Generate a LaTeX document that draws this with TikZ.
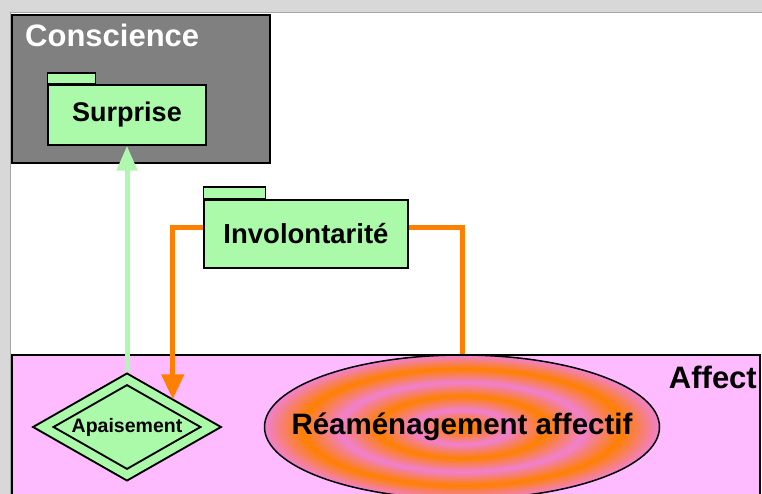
\documentclass[tikz,border=0pt]{standalone}
\usepackage{fontspec}
\setmainfont{Liberation Sans}
\usetikzlibrary{arrows.meta,shapes.geometric}
\definecolor{pkggreen}{HTML}{AAFAAA}
\definecolor{linkgreen}{HTML}{B0F8B0}
\definecolor{linkorange}{HTML}{FF8000}
\definecolor{affectpink}{HTML}{FFBBFF}
\definecolor{ringpink}{HTML}{F080D0}
\definecolor{framegray}{HTML}{D8D8D8}
\pgfdeclareradialshading{rings}{\pgfpoint{0bp}{0bp}}{color(0bp)=(linkorange); color(1.5bp)=(linkorange); color(6bp)=(ringpink); color(10.75bp)=(linkorange); color(15.5bp)=(ringpink); color(20.25bp)=(linkorange); color(25bp)=(ringpink); color(50bp)=(ringpink)}
\tikzset{
	pkg/.style={draw, line width=1.5pt, fill=pkggreen, inner sep=0pt, font=\bfseries\fontsize{27}{30}\selectfont},
	pkgtab/.style={draw, line width=1.5pt, fill=pkggreen},
	greenlink/.style={draw=linkgreen, line width=5pt, -{Triangle[width=20pt,length=25pt]}},
	orangelink/.style={draw=linkorange, line width=5pt}
}

\begin{document}
\begin{tikzpicture}[x=1pt,y=-1pt]
		%%%%% START %%%%%
		\clip (0,0) rectangle (762,494);
		\fill[framegray] (0,0) rectangle (762,494);
		\fill[white] (10,12) rectangle (762,494);
		\draw[gray!70] (10,494) -- (10,12) -- (762,12);
		
		% Conscience
		\draw[line width=2pt, fill=gray] (12,15) rectangle (270,163);
		\node[anchor=base west, text=white, inner sep=0pt, font=\bfseries\fontsize{31}{33}\selectfont] (consc) at (25,47) {Conscience};
		\node[pkg, minimum width=158pt, minimum height=60pt] (surp) at (127,115) {Surprise};
		\draw[pkgtab] (surp.north west) rectangle ++(48,-11);
		
		% Involontarite
		\node[pkg, minimum width=204pt, minimum height=68pt, font=\bfseries\fontsize{27.5}{30}\selectfont] (inv) at (306,234) {Involontarité};
		\draw[pkgtab] (inv.north west) rectangle ++(62,-12);
		
		% Affect
		\draw[line width=2pt, fill=affectpink] (12,355) rectangle (760,520);
		\node[anchor=base east, inner sep=0pt, font=\bfseries\fontsize{31}{33}\selectfont] (affect) at (757,388) {Affect};
		\node[ellipse, draw, line width=1.5pt, shade, shading=rings, minimum width=395pt, minimum height=144pt, inner xsep=-40pt, inner ysep=0pt, font=\bfseries\fontsize{29.5}{31}\selectfont] (reamen) at (462,427) {Réaménagement affectif};
		\node[diamond, draw, line width=2pt, double=pkggreen, double distance=8pt, fill=pkggreen, aspect=1.73, minimum width=172pt, minimum height=100pt, inner sep=0pt, outer sep=5.5pt, font=\bfseries\fontsize{19.5}{21}\selectfont] (apai) at (127,427) {Apaisement};
		
		% links
		\draw[greenlink] (apai.north) -- (surp.south);
		\draw[orangelink, -{Triangle[width=22pt,length=25pt]}] ([yshift=6pt]inv.west) -| (apai.north east);
		\draw[orangelink] ([yshift=6pt]inv.east) -| (reamen.north);
		%%%%% END %%%%%
\end{tikzpicture}
\end{document}
